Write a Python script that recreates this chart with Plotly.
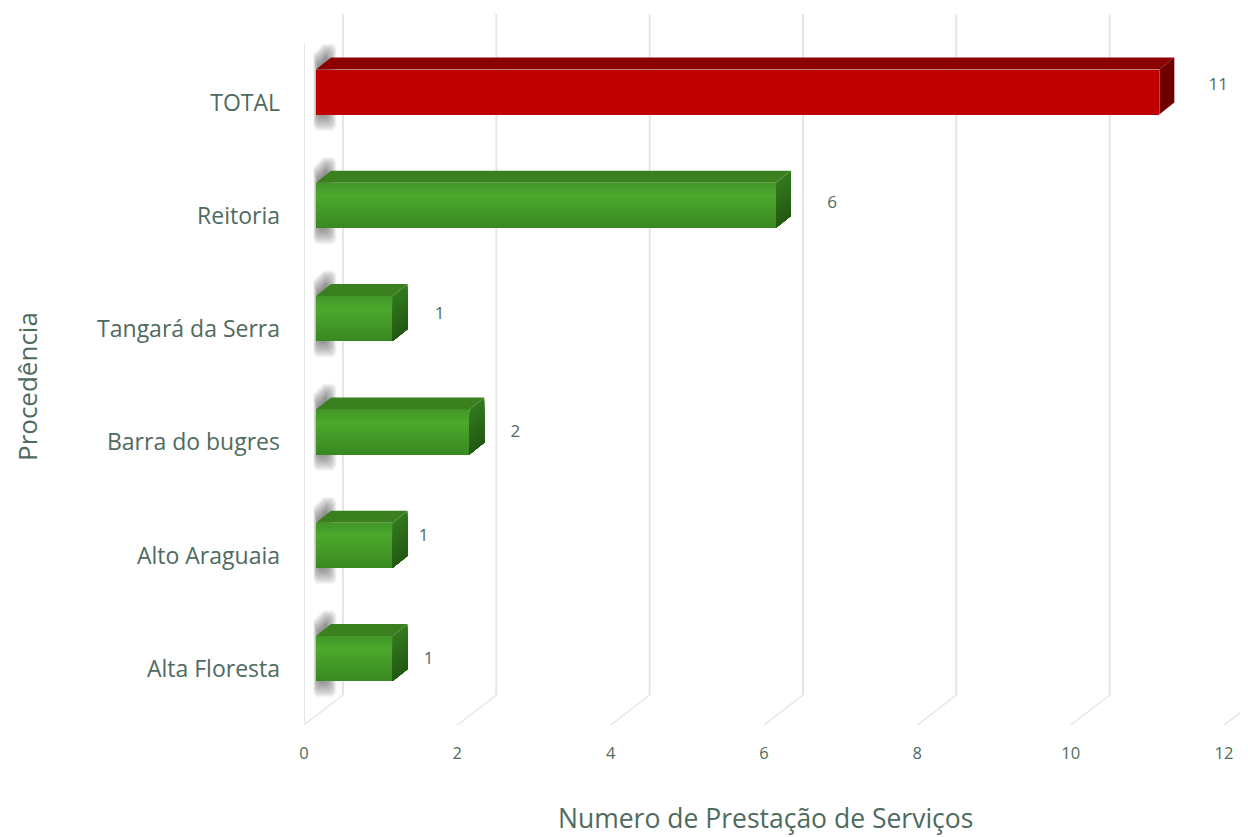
import plotly.graph_objects as go

# ---------- data (bottom to top, as the value axis reads them) ----------
categories = ["Alta Floresta", "Alto Araguaia", "Barra do bugres",
              "Tangará da Serra", "Reitoria", "TOTAL"]
values = [1, 1, 2, 1, 6, 11]
x_ticks = [0, 2, 4, 6, 8, 10, 12]
x_title = "Numero de Prestação de Serviços"
y_title = "Procedência"

# ---------- style / projection ----------
FONT = "Open Sans"
TEXT = "#4f6a5f"
GRID = "#e3e8e6"
PX_X = 920 / 12            # pixels per value unit
PX_Y = 113.3               # pixels per category
W, H = 1240, 829           # the page adds an 8 px body margin
L, T, B = 296, 6, 112
PLOT_W, PLOT_H = W - L, H - T - B
X_MAX = PLOT_W / PX_X
Y_MIN = -56 / PX_Y
Y_MAX = 655 / PX_Y
px = lambda d: d / PX_X
py = lambda d: d / PX_Y    # upward pixels to category units

BAR_START = px(12)
BAR_RAISE = py(10.5)
BAR_HALF = py(22.5)
DEPTH_X, DEPTH_Y = px(15), py(12)
WALL_X, WALL_Y = px(39), py(30)

# manually placed value labels in the source, offset from the bar end (px)
label_dx = [36, 31, 46, 47, 56, 59]
label_dy = [9, 19, 10, 14, 12, 16.5]

GREEN_STOPS = [(0.0, (66, 150, 40)), (0.3, (75, 168, 44)), (1.0, (58, 136, 33))]
SIDE_STOPS = [(0.0, (50, 122, 30)), (1.0, (35, 88, 18))]
N = 18


def mix(stops, t):
    for (a, ca), (b, cb) in zip(stops, stops[1:]):
        if t <= b:
            f = (t - a) / (b - a)
            return "rgb(%d,%d,%d)" % tuple(round(p + (q - p) * f) for p, q in zip(ca, cb))
    return "rgb(%d,%d,%d)" % stops[-1][1]


fig = go.Figure()
shapes = []

# walls: gridlines on the back wall + floor diagonals, left wall line
Y0 = Y_MIN
for t in x_ticks:
    shapes.append(dict(type="line", xref="x", yref="y", layer="below", x0=t, x1=t + WALL_X,
                       y0=Y0, y1=Y0 + WALL_Y, line=dict(color=GRID, width=1.5)))
    if t < 12:
        shapes.append(dict(type="line", xref="x", yref="y", layer="below", x0=t + WALL_X, x1=t + WALL_X,
                           y0=Y0 + WALL_Y, y1=Y_MAX, line=dict(color=GRID, width=2)))
shapes.append(dict(type="line", xref="x", yref="y", layer="below", x0=0, x1=0,
                   y0=Y0, y1=Y_MAX - WALL_Y, line=dict(color=GRID, width=2)))

# soft shadow between bars and back wall
LAYERS = 14
for i in range(len(values)):
    c = i + BAR_RAISE
    for g in range(LAYERS):
        e = LAYERS - 1 - g        # outermost layer first
        xl = px(14 - e * 0.35)
        xr = px(22 + e * 0.8)
        yt = c + py(34 + e * 1.1)
        yb = c - py(22 + e * 1.3)
        path = (f"M {xl + px(3)} {yb} L {xr - px(3)} {yb} L {xr} {yb + py(4)} L {xr} {yt - py(4)} "
                f"L {xr - px(3)} {yt} L {xl + px(10)} {yt} L {xl} {yt - py(10)} L {xl} {yb + py(4)} Z")
        shapes.append(dict(type="path", xref="x", yref="y", layer="below", path=path,
                           fillcolor="rgba(60,60,60,0.058)", line=dict(width=0)))

# front faces (green in gradient strips, red flat)
green = [i for i, c in enumerate(categories) if c != "TOTAL"]
red = [i for i, c in enumerate(categories) if c == "TOTAL"]
for k in range(N):
    t = (k + 0.5) / N
    h = 2 * BAR_HALF / N
    fig.add_trace(go.Bar(
        orientation="h", x=[values[i] for i in green], base=BAR_START,
        y=[i + BAR_RAISE + BAR_HALF - (k + 0.5) * h for i in green],
        width=h * 1.15, marker=dict(color=mix(GREEN_STOPS, t), line=dict(width=0)),
        showlegend=False, hoverinfo="skip"))
fig.add_trace(go.Bar(
    orientation="h", x=[values[i] for i in red], base=BAR_START,
    y=[i + BAR_RAISE for i in red], width=2 * BAR_HALF,
    marker=dict(color="#c00000", line=dict(width=0)), showlegend=False, hoverinfo="skip"))


def poly(indices, builder, color):
    xs, ys = [], []
    for i in indices:
        px_, py_ = builder(i)
        xs += px_ + [None]
        ys += py_ + [None]
    fig.add_trace(go.Scatter(x=xs, y=ys, mode="lines", fill="toself", fillcolor=color,
                             line=dict(width=0, color=color), showlegend=False, hoverinfo="skip"))


def top_face(i):
    xa = BAR_START
    xb = BAR_START + values[i]
    y = i + BAR_RAISE + BAR_HALF
    return [xa, xb, xb + DEPTH_X, xa + DEPTH_X, xa], [y, y, y + DEPTH_Y, y + DEPTH_Y, y]


poly(green, top_face, "#3a801f")
poly(red, top_face, "#8b0000")


def side_strip(i, a):
    xb = BAR_START + values[i]
    ytop = i + BAR_RAISE + BAR_HALF
    ya, yb = ytop - a * 2 * BAR_HALF, ytop - 2 * BAR_HALF
    return [xb, xb + DEPTH_X, xb + DEPTH_X, xb, xb], [ya, ya + DEPTH_Y, yb + DEPTH_Y, yb, ya]


# painted top to bottom, each strip reaching the bottom edge so no seams show
for k in range(N):
    a = k / N
    poly(green, lambda i: side_strip(i, a), mix(SIDE_STOPS, (k + 0.5) / N))
poly(red, lambda i: side_strip(i, 0), "#700000")

# value labels
fig.add_trace(go.Scatter(
    x=[BAR_START + v + px(d) for v, d in zip(values, label_dx)],
    y=[i + py(d) for i, d in enumerate(label_dy)],
    text=[str(v) for v in values], mode="text", textposition="middle center",
    textfont=dict(family=FONT, size=17, color=TEXT), showlegend=False, hoverinfo="skip",
    cliponaxis=False))

# axis titles sit off-centre in the source, so they are placed as annotations
plot_bottom = T + PLOT_H
fig.update_layout(
    width=W, height=H, autosize=False,
    margin=dict(l=L, r=0, t=T, b=B, pad=0),
    paper_bgcolor="white", plot_bgcolor="white", shapes=shapes,
    barmode="overlay", bargap=0, showlegend=False,
    font=dict(family=FONT, color=TEXT),
    xaxis=dict(range=[0, X_MAX], tickmode="array", tickvals=x_ticks, ticktext=[str(t) for t in x_ticks],
               showgrid=False, zeroline=False, showline=False, ticks="", ticklabelstandoff=16,
               automargin=False, tickfont=dict(size=16.5, family=FONT, color=TEXT)),
    yaxis=dict(range=[Y_MIN, Y_MAX], tickmode="array", tickvals=list(range(len(categories))),
               ticktext=categories, showgrid=False, zeroline=False, showline=False, ticks="",
               automargin=False, ticklabelstandoff=23, tickfont=dict(size=23, family=FONT, color=TEXT)),
    annotations=[
        dict(text=y_title, textangle=-90, showarrow=False, xref="paper", yref="paper",
             x=(19 - L) / PLOT_W, y=(plot_bottom - 379) / PLOT_H,
             xanchor="center", yanchor="middle",
             font=dict(size=26, family=FONT, color=TEXT)),
        dict(text=x_title, showarrow=False, xref="paper", yref="paper",
             x=(757.5 - L) / PLOT_W, y=(plot_bottom - 809.5) / PLOT_H,
             xanchor="center", yanchor="middle",
             font=dict(size=26.5, family=FONT, color=TEXT)),
    ],
)
fig.write_html("out.html", config=dict(displayModeBar=False))
